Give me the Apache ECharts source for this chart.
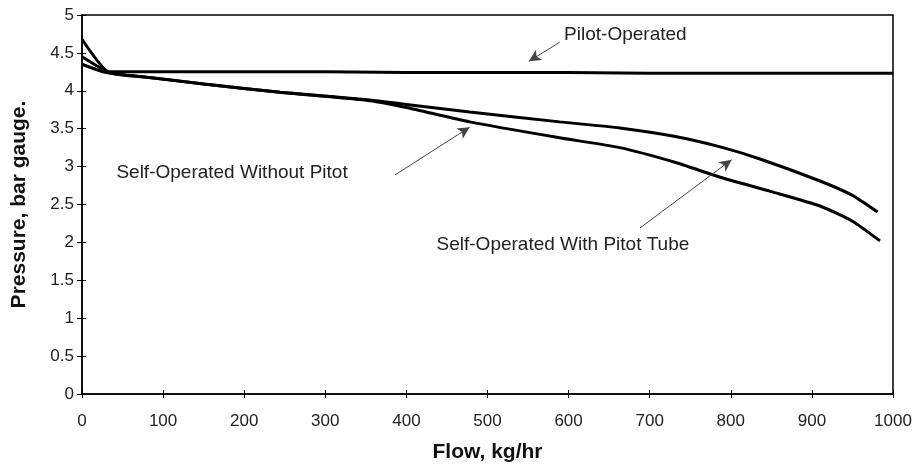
<!DOCTYPE html>
<html>
<head>
<meta charset="utf-8">
<script src="https://cdn.jsdelivr.net/npm/echarts@6/dist/echarts.min.js"></script>
<style>
html,body{margin:0;padding:0;background:#fff;}
#chart{width:918px;height:468px;}
</style>
</head>
<body>
<div id="chart"></div>
<script>
// ---- data ----
var pilotFlow = [0, 30, 100, 200, 300, 400, 500, 600, 700, 800, 900, 1000];
var pilotPressure = [4.45, 4.25, 4.25, 4.25, 4.25, 4.24, 4.24, 4.24, 4.23, 4.23, 4.23, 4.23];

var withPitotFlow = [0, 32, 80, 150, 244, 355, 400, 478, 589, 663, 730, 787, 836, 910, 950, 981];
var withPitotPressure = [4.68, 4.25, 4.18, 4.09, 3.98, 3.88, 3.82, 3.72, 3.59, 3.51, 3.40, 3.26, 3.10, 2.81, 2.62, 2.40];

var withoutPitotFlow = [0, 30, 80, 150, 244, 355, 400, 478, 589, 663, 730, 787, 850, 910, 950, 984];
var withoutPitotPressure = [4.35, 4.24, 4.18, 4.09, 3.98, 3.87, 3.78, 3.59, 3.38, 3.25, 3.06, 2.86, 2.67, 2.48, 2.28, 2.02];

var xTicks = [0, 100, 200, 300, 400, 500, 600, 700, 800, 900, 1000];
var yTicks = [0, 0.5, 1, 1.5, 2, 2.5, 3, 3.5, 4, 4.5, 5];

// annotations
var annoText = ['Pilot-Operated', 'Self-Operated Without Pitot', 'Self-Operated With Pitot Tube'];
var annoTextPos = [[670, 4.74], [185, 2.92], [593, 1.97]];
var annoArrowFrom = [[589, 4.64], [386, 2.89], [688, 2.19]];
var annoArrowTo = [[551, 4.39], [478, 3.52], [801, 3.09]];

function zip(a, b) { return a.map(function (v, i) { return [v, b[i]]; }); }

var FONT = 'Liberation Sans, Arial, sans-serif';
var chart = echarts.init(document.getElementById('chart'), null, {renderer: 'canvas'});

var arrowData = annoArrowFrom.map(function (f, i) {
  return [{coord: f}, {coord: annoArrowTo[i]}];
});

var lineStyle = {color: '#000', width: 3};
var titleStyle = {fontFamily: FONT, fontSize: 21, fontWeight: 'bold', color: '#111'};
var labelStyle = {fontFamily: FONT, fontSize: 17, color: '#222'};

chart.setOption({
  animation: false,
  backgroundColor: '#fff',
  grid: {left: 82, right: 25, top: 15, bottom: 74, show: true, borderColor: '#000', borderWidth: 1.5},
  xAxis: [{
    type: 'value', min: 0, max: 1000, interval: 100,
    name: 'Flow, kg/hr', nameLocation: 'middle', nameGap: 48,
    nameTextStyle: titleStyle,
    axisLine: {lineStyle: {color: '#000', width: 1.5}},
    axisTick: {show: true, length: 4, lineStyle: {color: '#000'}},
    axisLabel: Object.assign({margin: 19,
      formatter: function (v) { return xTicks.indexOf(v) >= 0 ? String(v) : ''; }}, labelStyle),
    splitLine: {show: false}
  }, {
    type: 'value', min: 0, max: 1000, interval: 100, position: 'bottom',
    axisLine: {show: false}, axisLabel: {show: false}, splitLine: {show: false},
    axisTick: {show: true, inside: true, length: 4, lineStyle: {color: '#000'}}
  }],
  yAxis: [{
    type: 'value', min: 0, max: 5, interval: 0.5,
    name: 'Pressure, bar gauge.', nameLocation: 'middle', nameGap: 52, nameRotate: 90,
    nameTextStyle: titleStyle,
    axisLine: {show: true, lineStyle: {color: '#000', width: 1.5}},
    axisTick: {show: true, length: 5, lineStyle: {color: '#000'}},
    axisLabel: Object.assign({margin: 8,
      formatter: function (v) { return yTicks.indexOf(v) >= 0 ? String(v) : ''; }}, labelStyle),
    splitLine: {show: false}
  }, {
    type: 'value', min: 0, max: 5, interval: 0.5, position: 'left',
    axisLine: {show: false}, axisLabel: {show: false}, splitLine: {show: false},
    axisTick: {show: true, inside: true, length: 4, lineStyle: {color: '#000'}}
  }],
  series: [
    {name: 'Pilot-Operated', type: 'line', data: zip(pilotFlow, pilotPressure),
      symbol: 'none', lineStyle: lineStyle,
      markLine: {silent: true, symbol: ['none', 'arrow'], symbolSize: [9, 12],
        lineStyle: {color: '#444', width: 1, type: 'solid'}, label: {show: false},
        data: arrowData}},
    {name: 'Self-Operated With Pitot Tube', type: 'line', data: zip(withPitotFlow, withPitotPressure),
      symbol: 'none', lineStyle: lineStyle, smooth: 0.2},
    {name: 'Self-Operated Without Pitot', type: 'line', data: zip(withoutPitotFlow, withoutPitotPressure),
      symbol: 'none', lineStyle: lineStyle, smooth: 0.2}
  ]
});

var graphics = annoText.map(function (t, i) {
  var p = chart.convertToPixel({gridIndex: 0}, annoTextPos[i]);
  return {type: 'text', x: p[0], y: p[1],
    style: {text: t, fontFamily: FONT, fontSize: 19, fill: '#222', align: 'center', verticalAlign: 'middle'}};
});
chart.setOption({graphic: graphics});
</script>
</body>
</html>
